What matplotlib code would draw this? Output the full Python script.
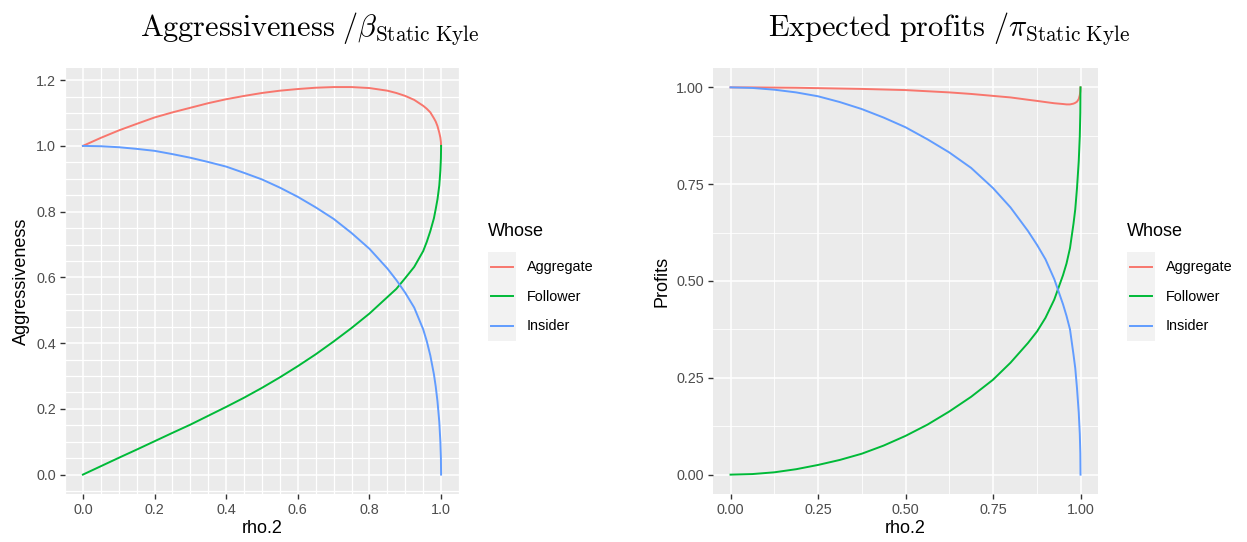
import numpy as np
import matplotlib
matplotlib.use("Agg")
import matplotlib.pyplot as plt
from matplotlib.legend_handler import HandlerBase
from matplotlib.patches import Rectangle
from matplotlib.lines import Line2D

plt.rcParams['font.family'] = ['Liberation Sans', 'DejaVu Sans']
plt.rcParams['mathtext.fontset'] = 'cm'

# values
rho_beta = [0, 0.05, 0.1, 0.15, 0.2, 0.25, 0.3, 0.35, 0.4, 0.45, 0.5, 0.55, 0.6, 0.65,
            0.7, 0.75, 0.8, 0.85, 0.875, 0.9, 0.925, 0.95, 0.96, 0.97, 0.98, 0.985,
            0.99, 0.995, 0.998, 0.9995, 1.0]
beta_aggregate = [1.0, 1.0245, 1.047, 1.067, 1.0865, 1.102, 1.116, 1.13, 1.142, 1.152,
                  1.161, 1.168, 1.173, 1.177, 1.179, 1.179, 1.176, 1.168, 1.161, 1.152,
                  1.14, 1.122, 1.113, 1.102, 1.084, 1.074, 1.06, 1.04, 1.025, 1.012, 1.0]
beta_follower = [0.0, 0.0255, 0.051, 0.076, 0.1015, 0.127, 0.152, 0.179, 0.206, 0.234,
                 0.264, 0.296, 0.33, 0.366, 0.405, 0.446, 0.49, 0.54, 0.565, 0.598,
                 0.632, 0.68, 0.708, 0.741, 0.78, 0.808, 0.838, 0.88, 0.925, 0.962, 1.0]
beta_insider = [1.0, 0.999, 0.996, 0.991, 0.985, 0.975, 0.964, 0.951, 0.937, 0.918,
                0.898, 0.873, 0.845, 0.813, 0.778, 0.735, 0.687, 0.627, 0.592, 0.553,
                0.508, 0.442, 0.406, 0.362, 0.305, 0.268, 0.222, 0.16, 0.1, 0.05, 0.0]

rho_pi = [0, 0.0625, 0.125, 0.1875, 0.25, 0.3125, 0.375, 0.4375, 0.5, 0.5625, 0.625,
          0.6875, 0.75, 0.8, 0.85, 0.876, 0.9, 0.925, 0.95, 0.96, 0.97, 0.98, 0.985,
          0.99, 0.995, 0.998, 0.9995, 1.0]
pi_aggregate = [1.0, 1.0, 0.9995, 0.999, 0.998, 0.997, 0.996, 0.9945, 0.993, 0.99, 0.987,
                0.983, 0.978, 0.974, 0.968, 0.965, 0.962, 0.959, 0.957, 0.956, 0.956,
                0.958, 0.96, 0.963, 0.97, 0.98, 0.99, 1.0]
pi_follower = [0.0, 0.0015, 0.006, 0.014, 0.025, 0.038, 0.054, 0.075, 0.1, 0.129, 0.163,
               0.201, 0.245, 0.289, 0.34, 0.37, 0.405, 0.452, 0.515, 0.545, 0.585,
               0.648, 0.685, 0.74, 0.81, 0.875, 0.935, 1.0]
pi_insider = [1.0, 0.9985, 0.994, 0.987, 0.977, 0.962, 0.944, 0.922, 0.897, 0.866, 0.832,
              0.792, 0.74, 0.69, 0.629, 0.593, 0.556, 0.505, 0.44, 0.41, 0.375,
              0.31, 0.275, 0.223, 0.16, 0.105, 0.055, 0.0]

series_names = ['Aggregate', 'Follower', 'Insider']
colors = ['#F8766D', '#00BA38', '#619CFF']

W, H = 1247, 542
fig = plt.figure(figsize=(W / 100, H / 100), dpi=100)


class KeyHandler(HandlerBase):
    # ggplot-like legend key: grey box with a line through it
    def create_artists(self, legend, orig_handle, xdescent, ydescent,
                       width, height, fontsize, trans):
        bg = Rectangle((-xdescent, -ydescent - 1), width, height + 2,
                       facecolor='#F2F2F2', edgecolor='none', transform=trans)
        y = -ydescent + height / 2
        ln = Line2D([-xdescent + 2, -xdescent + width - 2], [y, y],
                    color=orig_handle.get_color(), lw=1.4, transform=trans)
        return [bg, ln]


def style_axes(ax, xmaj, ymaj, xmin_, ymin_, fmt):
    ax.set_facecolor('#EBEBEB')
    for s in ax.spines.values():
        s.set_visible(False)
    ax.set_xticks(xmaj)
    ax.set_yticks(ymaj)
    ax.set_xticks(xmin_, minor=True)
    ax.set_yticks(ymin_, minor=True)
    ax.set_xticklabels([fmt % v for v in xmaj])
    ax.set_yticklabels([fmt % v for v in ymaj])
    ax.grid(which='major', color='white', lw=1.1)
    ax.grid(which='minor', color='white', lw=0.6)
    ax.set_axisbelow(True)
    ax.tick_params(which='major', length=3.5, width=1, color='#333333',
                   labelcolor='#4D4D4D', labelsize=10.4, pad=3)
    ax.tick_params(which='minor', length=0)


def draw(ax, x, ys):
    handles = []
    for y, c, n in zip(ys, colors, series_names):
        h, = ax.plot(x, y, color=c, lw=1.4, label=n)
        handles.append(h)
    return handles


# left panel
ax1 = fig.add_axes([65 / W, 1 - 494 / H, (459 - 65) / W, (494 - 68) / H])
h1 = draw(ax1, rho_beta, [beta_aggregate, beta_follower, beta_insider])
grid_x = np.round(np.arange(-0.05, 1.051, 0.05), 2)
grid_y = np.round(np.arange(-0.05, 1.251, 0.05), 2)
style_axes(ax1, [0, 0.2, 0.4, 0.6, 0.8, 1.0], [0, 0.2, 0.4, 0.6, 0.8, 1.0, 1.2],
           grid_x, grid_y, '%.1f')
ax1.grid(which='minor', color='white', lw=0.9)
ax1.set_xlim(-0.05, 1.05)
ax1.set_ylim(-0.059, 1.237)
ax1.set_xlabel('rho.2', fontsize=13, labelpad=2)
ax1.set_ylabel('Aggressiveness', fontsize=13, labelpad=4)

# right panel
ax2 = fig.add_axes([713 / W, 1 - 494 / H, (1098 - 713) / W, (494 - 68) / H])
h2 = draw(ax2, rho_pi, [pi_aggregate, pi_follower, pi_insider])
q = [0, 0.25, 0.5, 0.75, 1.0]
e = [0.125, 0.375, 0.625, 0.875]
style_axes(ax2, q, q, e, e, '%.2f')
ax2.set_xlim(-0.05, 1.05)
ax2.set_ylim(-0.05, 1.05)
ax2.set_xlabel('rho.2', fontsize=13, labelpad=2)
ax2.set_ylabel('Profits', fontsize=13, labelpad=4)

# legends: title as separate text so its gap to the keys can be set
for h, lx in [(h1, 488), (h2, 1127)]:
    fig.text(lx / W, 1 - 232 / H, 'Whose', fontsize=13, ha='left', va='center')
    fig.legend(handles=h, labels=series_names,
               loc='upper left', bbox_to_anchor=(lx / W, 1 - 253 / H),
               frameon=False, fontsize=10.4, borderpad=0,
               handler_map={Line2D: KeyHandler()},
               handlelength=1.95, handleheight=2.55, labelspacing=0.15,
               handletextpad=0.75, borderaxespad=0)

fig.text(310 / W, 1 - 36 / H, r'$\mathrm{Aggressiveness}\ /\beta_{\mathrm{Static\ Kyle}}$',
         fontsize=21.8, ha='center', va='baseline')
fig.text(949 / W, 1 - 36 / H, r'$\mathrm{Expected\ profits}\ /\pi_{\mathrm{Static\ Kyle}}$',
         fontsize=21.8, ha='center', va='baseline')

fig.savefig('out.png', dpi=100, facecolor='white')
